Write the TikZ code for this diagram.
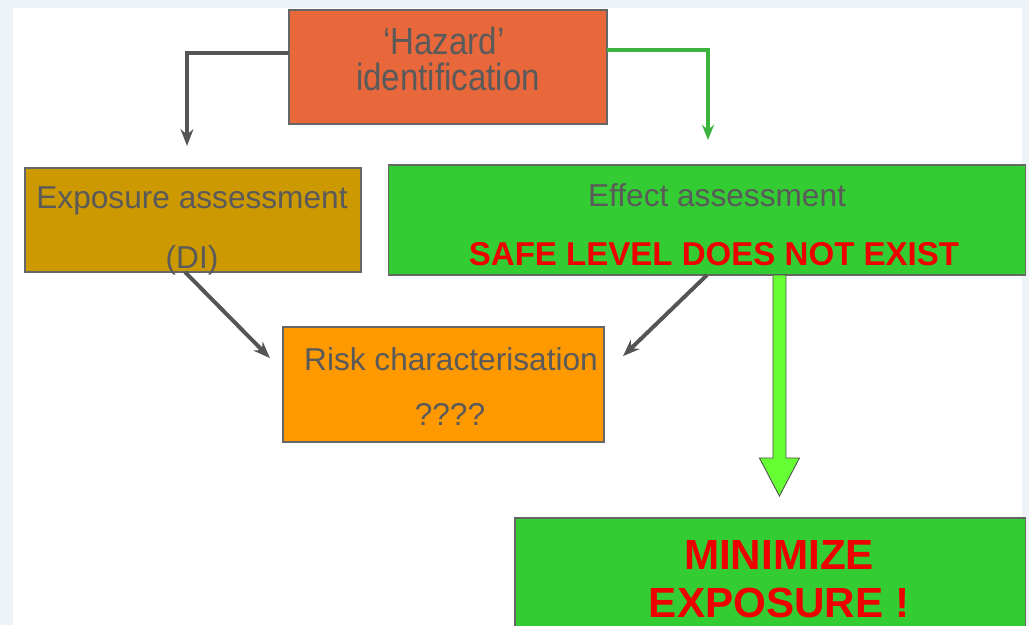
\documentclass[tikz,border=0pt]{standalone}
\usepackage{fontspec}
\setmainfont{Liberation Sans}
\usetikzlibrary{arrows.meta, positioning}

\definecolor{frameblue}{HTML}{EEF3FA}
\definecolor{hazardred}{HTML}{E8683C}
\definecolor{expogold}{HTML}{CC9900}
\definecolor{effectgreen}{HTML}{33CC33}
\definecolor{riskorange}{HTML}{FF9900}
\definecolor{textgray}{HTML}{5A5A5A}
\definecolor{alarmred}{HTML}{EE0000}
\definecolor{arrowgray}{HTML}{555555}
\definecolor{linkgreen}{HTML}{3CB33C}
\definecolor{bigarrowgreen}{HTML}{66FF33}

\begin{document}
\begin{tikzpicture}[x=0.025cm, y=-0.025cm,
 box/.style={rectangle, draw=black!60, line width=0.8pt, inner sep=0pt, outer sep=0pt},
 plain text/.style={anchor=base, text=textgray, inner sep=0pt, font=\fontsize{22.5}{27}\selectfont},
 alarm text/.style={anchor=base, text=alarmred, inner sep=0pt, font=\bfseries\fontsize{30}{36}\selectfont},
 gray arrow/.style={draw=arrowgray, line width=2.8pt, -{Stealth[length=0.42cm, width=0.32cm]}},
 green link/.style={draw=linkgreen, line width=3pt, -{Stealth[length=0.38cm, width=0.3cm]}}]

  \clip (0,0) rectangle (1029,625);
  \fill[frameblue] (0,0) rectangle (1029,625);
  \fill[white] (13,8) rectangle (1022,625);

  % boxes
  \node[box, fill=hazardred, minimum width=7.95cm, minimum height=2.85cm] (hazard) at (448,67) {};
  \node[box, fill=expogold, minimum width=8.4cm, minimum height=2.6cm] (expo) at (193,220) {};
  \node[box, fill=effectgreen, minimum width=15.9cm, minimum height=2.75cm] (effect) at (707,220) {};
  \node[box, fill=riskorange, minimum width=8.025cm, minimum height=2.875cm] (risk) at (443.5,384.5) {};
  \node[box, fill=effectgreen, minimum width=12.75cm, minimum height=3.3cm] (minimize) at (770,584) {};

  % texts
  \node[plain text, font=\fontsize{27}{32}\selectfont] (hazA) at (444,54) {\scalebox{0.87}[1]{‘Hazard’}};
  \node[plain text, font=\fontsize{27}{32}\selectfont] (hazB) at (448,90) {\scalebox{0.87}[1]{identification}};
  \foreach \n/\x/\y/\t in {expoA/192/208/Exposure assessment, expoB/192/268/(DI),
    effectA/717/206/Effect assessment, riskA/451/370/Risk characterisation, riskB/450/425/????}
    \node[plain text] (\n) at (\x,\y) {\t};
  \node[alarm text, font=\bfseries\fontsize{23.5}{28}\selectfont] (effectB) at (714,265) {SAFE LEVEL DOES NOT EXIST};
  \node[alarm text] (minA) at (779,569) {MINIMIZE};
  \node[alarm text] (minB) at (779,617) {EXPOSURE !};

  % connectors
  \coordinate (exposetip) at (187,146);
  \coordinate (effecttip) at (708,140);
  \draw[gray arrow] ([yshift=0.35cm]hazard.west) -| (exposetip);
  \draw[green link] ([yshift=0.425cm]hazard.east) -| (effecttip);
  \draw[gray arrow] ([xshift=-0.2cm]expo.south) -- ([xshift=-0.325cm, yshift=0.66cm]risk.west);
  \draw[gray arrow] (effect.south) -- ([xshift=0.475cm, yshift=0.71cm]risk.east);

  \coordinate (bigtop) at ([xshift=1.81cm]effect.south);
  \filldraw[fill=bigarrowgreen, draw=black!70, line width=0.6pt] (bigtop) +(-6.5,0) -- +(-6.5,183)
    -- +(-20,183) -- +(0,221) -- +(20,183) -- +(6.5,183) -- +(6.5,0) -- cycle;

\end{tikzpicture}
\end{document}
